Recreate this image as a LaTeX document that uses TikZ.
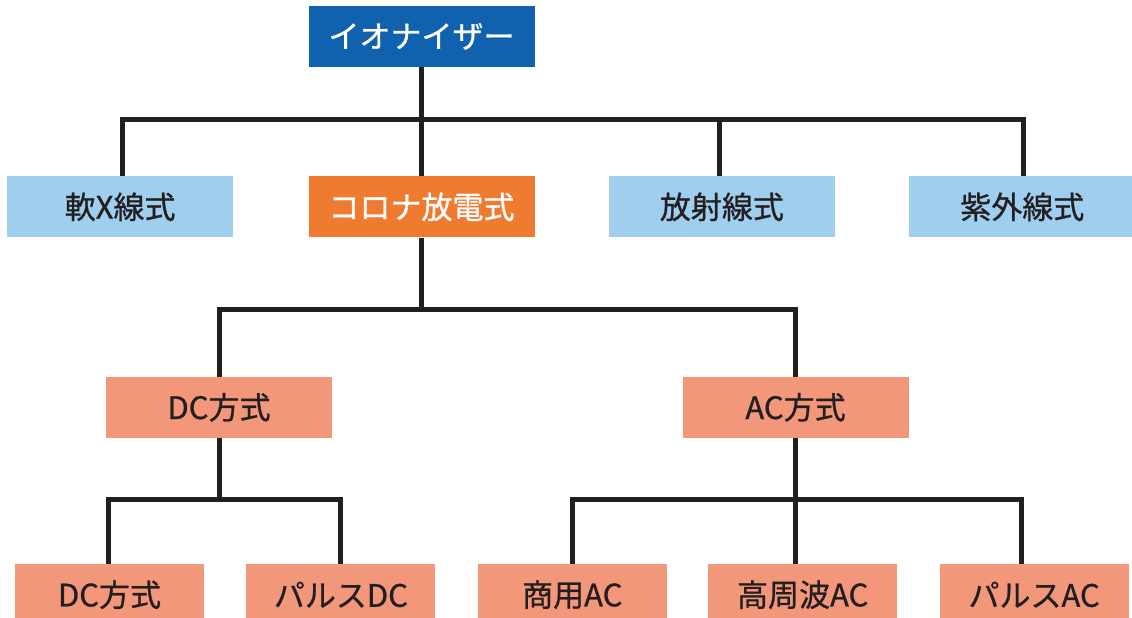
\documentclass[tikz,border=0pt]{standalone}
\usepackage{fontspec}
\setmainfont{Noto Sans CJK JP}[RawFeature={embolden=0.8}]
\usetikzlibrary{positioning,calc}
\definecolor{ionblue}{RGB}{16,98,174}
\definecolor{paleblue}{RGB}{160,206,238}
\definecolor{coronaorange}{RGB}{238,123,48}
\definecolor{salmon}{RGB}{243,151,122}
\definecolor{inkdark}{RGB}{35,31,32}

\begin{document}
\begin{tikzpicture}[
  x=1pt, y=1pt,
  font=\fontsize{31}{36}\selectfont,
  box/.style={inner sep=0pt, minimum width=226pt, minimum height=61pt, align=center, text=inkdark},
  topbox/.style={box, fill=ionblue, text=white},
  kindbox/.style={box, fill=paleblue},
  coronabox/.style={box, fill=coronaorange, text=white},
  subbox/.style={box, fill=salmon},
  leafbox/.style={box, fill=salmon, minimum width=189pt},
  link/.style={line width=5pt, inkdark, line join=miter}
]
\clip (0,0) rectangle (1132,618);
\fill[white] (0,0) rectangle (1132,618);

% top level
\node[topbox] (ionizer) at (421.5,581.5) {イオナイザー};

% ionizer types
\node[coronabox, below=109pt of ionizer] (corona) {コロナ放電式};
\node[kindbox, left=75pt of corona] (softx) {軟X線式};
\node[kindbox, right=74pt of corona] (radio) {放射線式};
\node[kindbox, right=74pt of radio] (uv) {紫外線式};

% corona discharge methods
\node[subbox, below=139pt of corona, xshift=-202.5pt] (dc) {DC方式};
\node[subbox, below=139pt of corona, xshift=374pt] (ac) {AC方式};

% leaves
\node[leafbox, below=126pt of dc, xshift=-109.5pt] (dcplain) {DC方式};
\node[leafbox, right=42pt of dcplain] (pulsedc) {パルスDC};
\node[leafbox, right=42pt of pulsedc] (mains) {商用AC};
\node[leafbox, right=41pt of mains] (hifreq) {高周波AC};
\node[leafbox, right=42pt of hifreq] (pulseac) {パルスAC};

% tree lines
\coordinate (bus1) at ($(ionizer.south)+(0,-52)$);
\coordinate (bus2) at ($(corona.south)+(0,-72)$);
\coordinate (bus3) at ($(dc.south)+(0,-62)$);
\coordinate (bus4) at ($(ac.south)+(0,-62)$);

\draw[link] (ionizer) -- (corona);
\draw[link] ([xshift=2pt]softx.north) |- (bus1) -| ([xshift=1pt]uv.north);
\draw[link] ([xshift=-2pt]radio.north) -- ([xshift=-2pt]radio.north |- bus1);
\draw[link] (corona) -- (bus2);
\draw[link] (dc.north) |- (bus2) -| (ac.north);
\draw[link] (dc) -- (bus3);
\draw[link] ([xshift=-1pt]dcplain.north) |- (bus3) -| (pulsedc.north);
\draw[link] (ac) -- (hifreq.north -| ac);
\draw[link] (mains.north) |- (bus4) -| ([xshift=-13pt]pulseac.north);
\end{tikzpicture}
\end{document}
